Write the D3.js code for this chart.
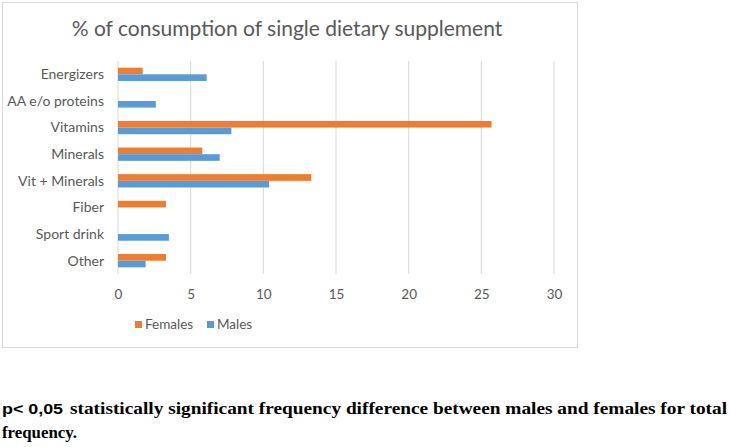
<!DOCTYPE html>
<html><head><meta charset="utf-8">
<script src="https://cdn.jsdelivr.net/npm/d3@7"></script>
<style>body{margin:0;background:#fff;}svg{display:block;}</style>
</head><body>
<script>
const categories = ["Energizers","AA e/o proteins","Vitamins","Minerals","Vit + Minerals","Fiber","Sport drink","Other"];
const females = [1.7, 0, 25.7, 5.8, 13.3, 3.3, 0, 3.3];
const males = [6.1, 2.6, 7.8, 7.0, 10.4, 0, 3.5, 1.9];
const seriesNames = ["Females","Males"];
const xTicks = [0,5,10,15,20,25,30];
const title = "% of consumption of single dietary supplement";
const notePrefix = "p< 0,05";
const note1 = "statistically significant frequency difference between males and females for total";
const note2 = "frequency.";

const W = 730, H = 447;
const colors = {Females:"#ED7D31", Males:"#5B9BD5"};
const sans = "Lato, 'Open Sans', sans-serif";

const cv = document.createElement("canvas").getContext("2d");
function w(f){ cv.font = "bold 15px " + f; return cv.measureText("frequency statistically significant").width; }
function pick(list, fallback){
  const base = w("monospace");
  for (const f of list) if (Math.abs(w(f + ", monospace") - base) > 0.5) return f + ", " + fallback;
  return fallback;
}
const serif = pick(["'Liberation Serif'","Liberation Serif","'Times New Roman'","Tinos","'DejaVu Serif Condensed'"], "serif");
const boldSans = pick(["'Liberation Sans'","Arial","Arimo","Roboto"], "sans-serif");

const svg = d3.select("body").append("svg").attr("width",W).attr("height",H);

svg.append("rect").attr("x",2.5).attr("y",2.5).attr("width",575).attr("height",345)
  .attr("fill","#fff").attr("stroke","#d9d9d9").attr("stroke-width",1);

const x = d3.scaleLinear().domain([0,30]).range([118,554]);
const y = d3.scaleBand().domain(categories).range([61,274]).paddingInner(0.5).paddingOuter(0.25);
const sub = d3.scaleBand().domain(seriesNames).range([0,y.bandwidth()]);

svg.append("g").selectAll("line").data(xTicks).join("line")
  .attr("x1",d=>x(d)).attr("x2",d=>x(d)).attr("y1",61).attr("y2",274)
  .attr("stroke","#d9d9d9").attr("stroke-width",1);

const data = categories.map((c,i)=>({cat:c, Females:females[i], Males:males[i]}));
const g = svg.append("g");
seriesNames.forEach(s=>{
  g.selectAll("rect."+s).data(data).join("rect").attr("class",s)
    .attr("x",x(0)).attr("y",d=>y(d.cat)+sub(s))
    .attr("width",d=>x(d[s])-x(0)).attr("height",sub.bandwidth())
    .attr("fill",colors[s]);
});

svg.append("g").selectAll("text").data(categories).join("text")
  .attr("x",104).attr("y",d=>y(d)+y.bandwidth()/2).attr("dy","0.35em")
  .attr("text-anchor","end").attr("font-family",sans)
  .attr("font-size",14).attr("fill","#595959").text(d=>d);

const xAxis = d3.axisBottom(x).tickValues(xTicks).tickSize(0).tickPadding(0);
const ax = svg.append("g").attr("transform","translate(0,294)").call(xAxis);
ax.select(".domain").remove();
ax.selectAll("text").attr("font-family",sans).attr("font-size",13.5)
  .attr("fill","#595959").attr("dy","0.35em");

svg.append("text").attr("x",287).attr("y",36).attr("text-anchor","middle")
  .attr("font-family",sans).attr("font-size",21)
  .attr("fill","#595959").text(title);

const leg = svg.append("g").attr("font-family",sans).attr("font-size",13.5).attr("fill","#595959");
const legX = [135, 207];
seriesNames.forEach((s,i)=>{
  leg.append("rect").attr("x",legX[i]).attr("y",321).attr("width",7).attr("height",7).attr("fill",colors[s]);
  leg.append("text").attr("x",legX[i]+10).attr("y",324.5).attr("dy","0.35em").text(s);
});

const fn = svg.append("g").attr("font-weight","bold").attr("fill","#000");
fn.append("text").attr("x",2).attr("y",414).attr("font-family",boldSans)
  .attr("font-size",15).attr("textLength",61).attr("lengthAdjust","spacingAndGlyphs").text(notePrefix);
fn.append("text").attr("x",70).attr("y",414).attr("font-family",serif).attr("font-size",16)
  .attr("textLength",657).attr("lengthAdjust","spacingAndGlyphs").text(note1);
fn.append("text").attr("x",2).attr("y",438).attr("font-family",serif).attr("font-size",16)
  .attr("textLength",75).attr("lengthAdjust","spacingAndGlyphs").text(note2);
</script>
</body></html>
